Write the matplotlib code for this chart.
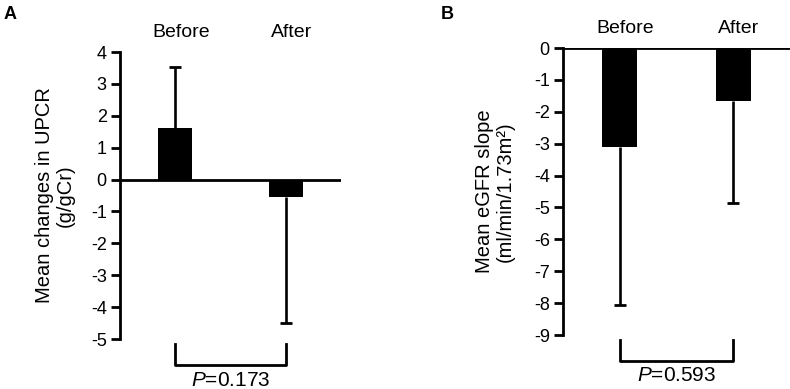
# Grafica de barras: UPCR y pendiente eGFR antes / despues
import matplotlib
matplotlib.use("Agg")
import matplotlib.pyplot as plt

plt.rcParams['font.family'] = ['Liberation Sans', 'DejaVu Sans']
plt.rcParams['mathtext.fontset'] = 'custom'
plt.rcParams['mathtext.rm'] = 'Liberation Sans'
plt.rcParams['mathtext.it'] = 'Liberation Sans:italic'
plt.rcParams['axes.unicode_minus'] = False

# Datos
categorias = ["Before", "After"]
upcr_media = [1.62, -0.55]
upcr_error = [1.90, 3.95]
egfr_media = [-3.10, -1.65]
egfr_error = [4.95, 3.20]
p_valores = ["0.173", "0.593"]

# Figura
fig = plt.figure(figsize=(7.9, 3.89), dpi=100)
ax_a = fig.add_axes([0.1519, 0.1285, 0.2797, 0.7378])
ax_b = fig.add_axes([0.7127, 0.1388, 0.2873, 0.7378])


def panel(ax, medias, errores, ylim, yticks, ylabel, p, label_x, ptexto_y):
    x = list(range(len(categorias)))
    ax.bar(x, medias, width=0.31, color="black", zorder=2)

    # barras de error solo hacia fuera del cero
    extremos = [m + e if m >= 0 else m - e for m, e in zip(medias, errores)]
    ax.vlines(x, medias, extremos, color="black", lw=1.9, zorder=1)
    ax.plot(x, extremos, ls="none", marker="_", markersize=8,
            markeredgewidth=2.0, color="black", zorder=1)

    ax.axhline(0, color="black", lw=2.0, zorder=3)
    ax.set_xlim(-0.5, 1.5)
    ax.set_ylim(*ylim)
    ax.set_yticks(yticks)
    ax.set_xticks([])
    for s in ["top", "right", "bottom"]:
        ax.spines[s].set_visible(False)
    ax.spines["left"].set_linewidth(2.0)
    ax.tick_params(axis="y", direction="out", length=6.5, width=2.0,
                   labelsize=13, pad=3)

    # etiquetas de categoria arriba
    tr = ax.get_xaxis_transform()
    for i, c in enumerate(categorias):
        ax.text(x[i] + 0.05, 1.068, c, transform=tr, ha="center",
                va="center", fontsize=14)

    # corchete con valor P
    ax.plot([x[0], x[0], x[1], x[1]], [-0.018, -0.092, -0.092, -0.018],
            transform=tr, color="black", lw=2.0, clip_on=False)
    ax.text((x[0] + x[1]) / 2, ptexto_y, "$P$=" + p, transform=tr,
            ha="center", va="center", fontsize=15)

    ax.text(label_x, 0.5, ylabel, transform=ax.transAxes, rotation=90,
            ha="center", va="center", fontsize=14.5, linespacing=1.1)


panel(ax_a, upcr_media, upcr_error, (-5, 4), range(-5, 5),
      "Mean changes in UPCR\n(g/gCr)", p_valores[0], -0.294, -0.143)
panel(ax_b, egfr_media, egfr_error, (-9, 0), range(-9, 1),
      "Mean eGFR slope\n(ml/min/1.73m\u00b2)", p_valores[1], -0.30, -0.14)

fig.text(0.004, 0.985, "A", fontsize=13, fontweight="bold", va="top")
fig.text(0.558, 0.985, "B", fontsize=13, fontweight="bold", va="top")

fig.savefig("out.png", dpi=100)
